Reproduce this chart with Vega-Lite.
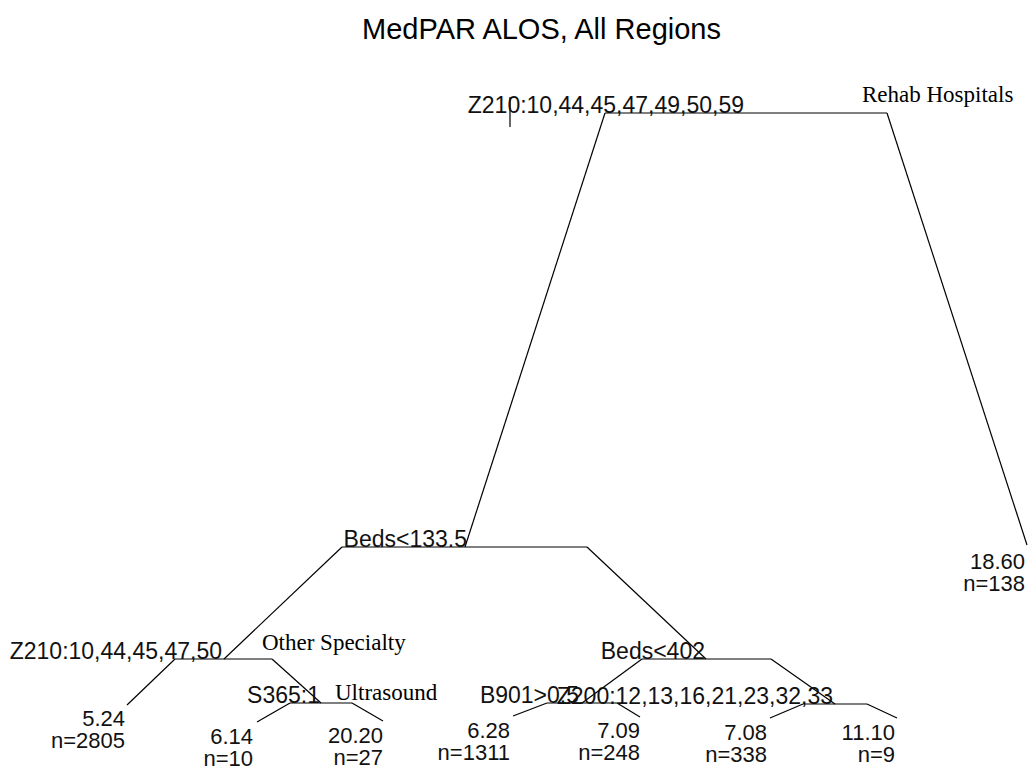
{
  "$schema": "https://vega.github.io/schema/vega-lite/v6.json",
  "width": 1029,
  "height": 720,
  "autosize": {"type": "none"},
  "padding": {"top": 50, "left": 0, "right": 0, "bottom": 0},
  "background": "white",
  "title": {
    "text": "MedPAR ALOS, All Regions",
    "font": "Liberation Sans",
    "fontSize": 29,
    "fontWeight": "normal",
    "color": "black",
    "anchor": "middle",
    "frame": "group",
    "baseline": "alphabetic",
    "offset": 12,
    "dx": 27,
    "dy": 30
  },
  "config": {"view": {"stroke": null}},
  "datasets": {
    "segments": [
      {"part": "root bar", "x": 605, "y": 113, "x2": 887, "y2": 113},
      {"part": "root left", "x": 605, "y": 113, "x2": 465, "y2": 547},
      {"part": "root right", "x": 887, "y": 113, "x2": 1027, "y2": 545},
      {"part": "root mark", "x": 510, "y": 97, "x2": 510, "y2": 127},
      {"part": "beds133 bar", "x": 342, "y": 547, "x2": 587, "y2": 547},
      {"part": "beds133 left", "x": 342, "y": 547, "x2": 224, "y2": 659},
      {"part": "beds133 right", "x": 587, "y": 547, "x2": 706, "y2": 659},
      {"part": "z210b bar", "x": 175, "y": 659, "x2": 272, "y2": 659},
      {"part": "z210b left", "x": 175, "y": 659, "x2": 127, "y2": 705},
      {"part": "z210b right", "x": 272, "y": 659, "x2": 321, "y2": 703},
      {"part": "s365 bar", "x": 290, "y": 703, "x2": 352, "y2": 703},
      {"part": "s365 left", "x": 290, "y": 703, "x2": 257, "y2": 722},
      {"part": "s365 right", "x": 352, "y": 703, "x2": 383, "y2": 721},
      {"part": "beds402 bar", "x": 642, "y": 659, "x2": 771, "y2": 659},
      {"part": "beds402 left", "x": 642, "y": 659, "x2": 582, "y2": 703},
      {"part": "beds402 right", "x": 771, "y": 659, "x2": 835, "y2": 704},
      {"part": "b901 bar", "x": 547, "y": 703, "x2": 617, "y2": 703},
      {"part": "b901 left", "x": 547, "y": 703, "x2": 513, "y2": 716},
      {"part": "b901 right", "x": 617, "y": 703, "x2": 640, "y2": 717},
      {"part": "z200 bar", "x": 803, "y": 704, "x2": 867, "y2": 704},
      {"part": "z200 left", "x": 803, "y": 704, "x2": 770, "y2": 718},
      {"part": "z200 right", "x": 867, "y": 704, "x2": 897, "y2": 718}
    ],
    "splits": [
      {"label": "Z210:10,44,45,47,49,50,59", "x": 744, "y": 113},
      {"label": "Beds<133.5", "x": 467, "y": 547},
      {"label": "Z210:10,44,45,47,50", "x": 222, "y": 659},
      {"label": "S365:1", "x": 320, "y": 703},
      {"label": "Beds<402", "x": 705, "y": 659},
      {"label": "B901>0.5", "x": 579, "y": 703},
      {"label": "Z200:12,13,16,21,23,32,33", "x": 833, "y": 704}
    ],
    "leaves": [
      {"mean": "5.24", "n": "n=2805", "x": 125, "y": 704},
      {"mean": "6.14", "n": "n=10", "x": 253, "y": 722},
      {"mean": "20.20", "n": "n=27", "x": 383, "y": 721},
      {"mean": "6.28", "n": "n=1311", "x": 510, "y": 716},
      {"mean": "7.09", "n": "n=248", "x": 640, "y": 716},
      {"mean": "7.08", "n": "n=338", "x": 767, "y": 718},
      {"mean": "11.10", "n": "n=9", "x": 895, "y": 718},
      {"mean": "18.60", "n": "n=138", "x": 1025, "y": 547}
    ],
    "notes": [
      {"note": "Rehab Hospitals", "x": 862, "y": 102},
      {"note": "Other Specialty", "x": 262, "y": 650},
      {"note": "Ultrasound", "x": 335, "y": 700}
    ]
  },
  "layer": [
    {
      "data": {"name": "segments"},
      "mark": {"type": "rule", "color": "black", "strokeWidth": 1.2},
      "encoding": {
        "x": {"field": "x", "type": "quantitative", "scale": {"domain": [0, 1029], "nice": false, "zero": false}, "axis": null},
        "y": {"field": "y", "type": "quantitative", "scale": {"domain": [50, 770], "reverse": true, "nice": false, "zero": false}, "axis": null},
        "x2": {"field": "x2"},
        "y2": {"field": "y2"}
      }
    },
    {
      "data": {"name": "splits"},
      "mark": {"type": "text", "align": "right", "baseline": "alphabetic", "font": "Liberation Sans", "fontSize": 23, "color": "#111111"},
      "encoding": {
        "x": {"field": "x", "type": "quantitative", "scale": {"domain": [0, 1029], "nice": false, "zero": false}, "axis": null},
        "y": {"field": "y", "type": "quantitative", "scale": {"domain": [50, 770], "reverse": true, "nice": false, "zero": false}, "axis": null},
        "text": {"field": "label"}
      }
    },
    {
      "data": {"name": "leaves"},
      "mark": {"type": "text", "align": "right", "baseline": "alphabetic", "font": "Liberation Sans", "fontSize": 22, "color": "#111111", "dy": 22},
      "encoding": {
        "x": {"field": "x", "type": "quantitative", "scale": {"domain": [0, 1029], "nice": false, "zero": false}, "axis": null},
        "y": {"field": "y", "type": "quantitative", "scale": {"domain": [50, 770], "reverse": true, "nice": false, "zero": false}, "axis": null},
        "text": {"field": "mean"}
      }
    },
    {
      "data": {"name": "leaves"},
      "mark": {"type": "text", "align": "right", "baseline": "alphabetic", "font": "Liberation Sans", "fontSize": 22, "color": "#111111", "dy": 44},
      "encoding": {
        "x": {"field": "x", "type": "quantitative", "scale": {"domain": [0, 1029], "nice": false, "zero": false}, "axis": null},
        "y": {"field": "y", "type": "quantitative", "scale": {"domain": [50, 770], "reverse": true, "nice": false, "zero": false}, "axis": null},
        "text": {"field": "n"}
      }
    },
    {
      "data": {"name": "notes"},
      "mark": {"type": "text", "align": "left", "baseline": "alphabetic", "font": "Liberation Serif", "fontSize": 23, "color": "black"},
      "encoding": {
        "x": {"field": "x", "type": "quantitative", "scale": {"domain": [0, 1029], "nice": false, "zero": false}, "axis": null},
        "y": {"field": "y", "type": "quantitative", "scale": {"domain": [50, 770], "reverse": true, "nice": false, "zero": false}, "axis": null},
        "text": {"field": "note"}
      }
    }
  ]
}
